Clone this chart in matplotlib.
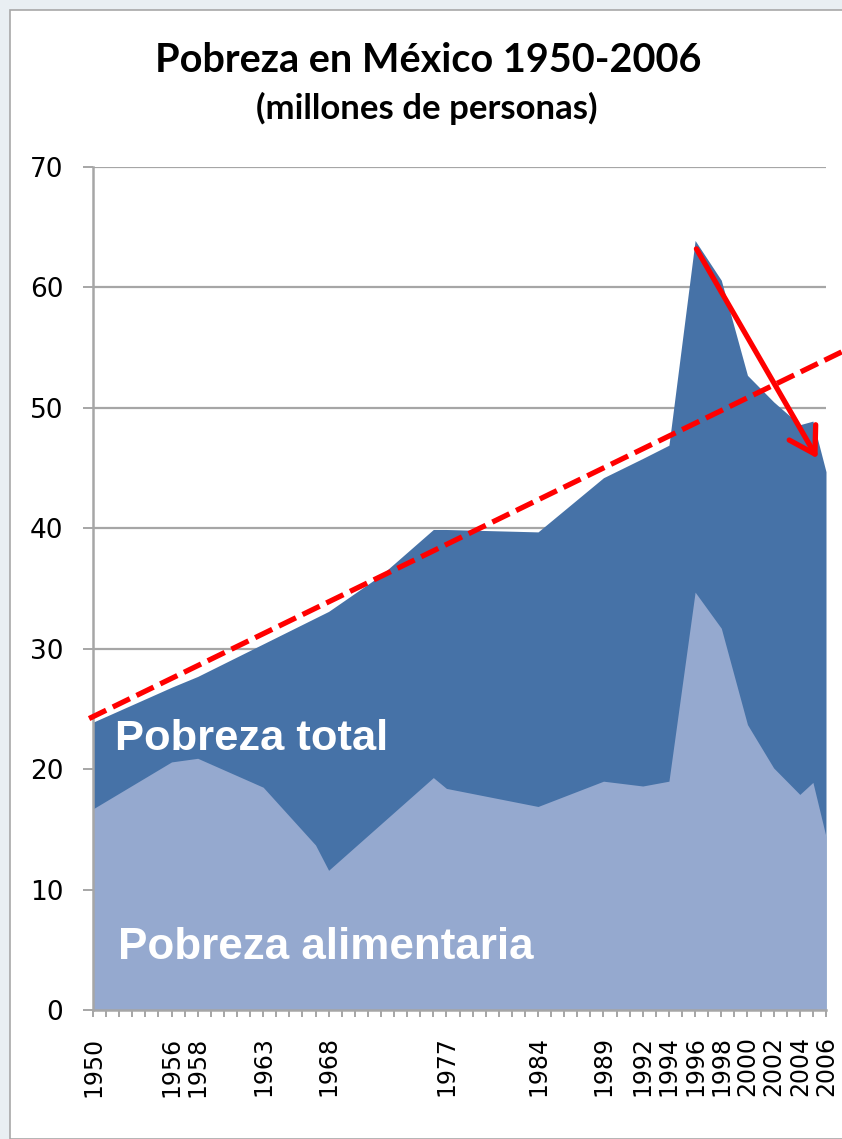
import matplotlib
matplotlib.use("Agg")
import matplotlib.pyplot as plt
from matplotlib.patches import Rectangle

# ---- data (millions of people) ----
total_years = [1950, 1956, 1958, 1963, 1968, 1972, 1976, 1977, 1984, 1989, 1992,
               1994, 1996, 1998, 2000, 2002, 2004, 2005, 2006]
total_values = [23.9, 26.8, 27.7, 30.4, 33.1, 36.1, 39.9, 39.9, 39.7, 44.2, 45.8,
                46.9, 63.9, 60.6, 52.7, 50.5, 48.6, 48.9, 44.7]

food_years = [1950, 1956, 1958, 1963, 1967, 1968, 1976, 1977, 1984, 1989, 1992,
              1994, 1996, 1998, 2000, 2002, 2004, 2005, 2006]
food_values = [16.7, 20.6, 20.9, 18.5, 13.7, 11.6, 19.3, 18.4, 16.9, 19.0, 18.6,
               19.0, 34.7, 31.7, 23.7, 20.1, 17.9, 18.9, 14.4]

label_years = [1950, 1956, 1958, 1963, 1968, 1977, 1984, 1989, 1992, 1994, 1996,
               1998, 2000, 2002, 2004, 2006]

trend_start = (1949.7, 24.2)
trend_end = (2007.3, 54.7)
arrow_start = (1996.1, 63.2)
arrow_end = (2005.35, 45.8)

title = "Pobreza en México 1950-2006"
subtitle = "(millones de personas)"

DARK = "#4672A7"
LIGHT = "#95A9CF"
GRID = "#A6A6A6"
TICKFONT = "DejaVu Sans"

fig = plt.figure(figsize=(8.42, 11.39), dpi=100)
fig.patch.set_facecolor("#E9EFF3")
# white slide panel
fig.patches.append(Rectangle((10 / 842, 0), 1, 1 - 10 / 1139, transform=fig.transFigure,
                             facecolor="white", edgecolor="#A8A8A8", linewidth=1.2,
                             zorder=-5))

ax = fig.add_axes([93 / 842, (1139 - 1010) / 1139, 733 / 842, 843 / 1139])
ax.set_zorder(2)
ax.set_facecolor("none")

ax.fill_between(total_years, 0, total_values, color=DARK, linewidth=0, zorder=2)
ax.fill_between(food_years, 0, food_values, color=LIGHT, linewidth=0, zorder=3)

ax.set_xlim(1950, 2006)
ax.set_ylim(0, 70)

ax.set_yticks(range(0, 71, 10))
ax.yaxis.grid(True, color=GRID, linewidth=1.6, zorder=1)
ax.set_axisbelow(True)

all_years = list(range(1950, 2007))
ax.set_xticks(all_years)
ax.set_xticklabels([str(y) if y in label_years else "" for y in all_years],
                   rotation=90, fontsize=17, family=TICKFONT)
ax.tick_params(axis="x", length=5, width=1.4, color=GRID, pad=14)
ax.tick_params(axis="y", length=7.5, width=1.4, color=GRID, pad=14, labelsize=19)
for lab in ax.get_yticklabels():
    lab.set_family(TICKFONT)

for s in ["top", "right"]:
    ax.spines[s].set_visible(False)
for s in ["left", "bottom"]:
    ax.spines[s].set_color(GRID)
    ax.spines[s].set_linewidth(1.8)
    ax.spines[s].set_zorder(5)

# area labels
ax.text(1951.7, 22.5, "Pobreza total", color="white", fontsize=31.3, fontweight="bold",
        family="Liberation Sans", va="center", ha="left", zorder=6)
ax.text(1951.9, 5.2, "Pobreza alimentaria", color="white", fontsize=31.7, fontweight="bold",
        family="Liberation Sans", va="center", ha="left", zorder=6)

# red dashed trend line
ax.plot([trend_start[0], trend_end[0]], [trend_start[1], trend_end[1]], color="#FF0000",
        linewidth=3.8, linestyle=(0, (3.6, 1.4)), dash_capstyle="butt",
        clip_on=False, zorder=7)

# red arrow
ax.annotate("", xy=arrow_end, xytext=arrow_start,
            arrowprops=dict(arrowstyle="->,head_length=0.9,head_width=0.55",
                            color="#FF0000", lw=3.8, mutation_scale=20,
                            shrinkA=0, shrinkB=0),
            zorder=8, annotation_clip=False)

# titles
fig.text(428 / 842, 1 - 60 / 1139, title, fontsize=28.5, fontweight="bold", family="Lato",
         ha="center", va="center")
fig.text(427 / 842, 1 - 108 / 1139, subtitle, fontsize=25, fontweight="bold", family="Lato",
         ha="center", va="center")

fig.savefig("out.png", dpi=100)
